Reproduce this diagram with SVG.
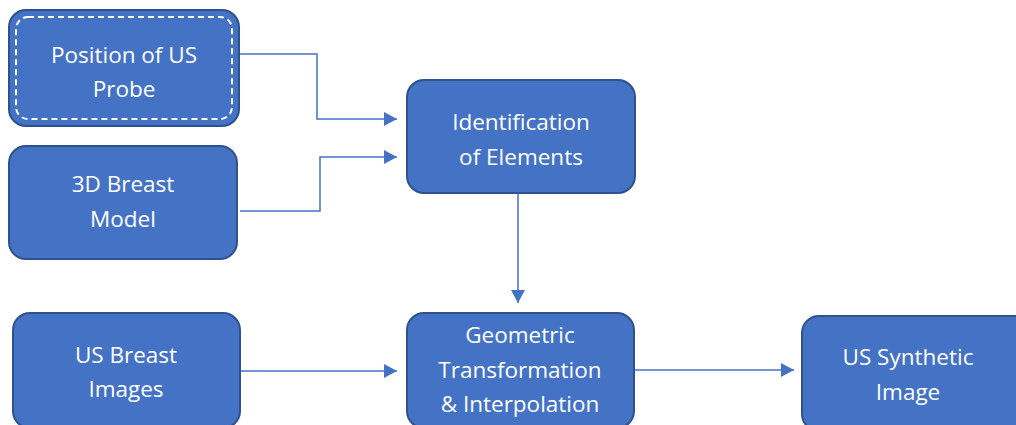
<svg xmlns="http://www.w3.org/2000/svg" width="1016" height="425" viewBox="0 0 1016 425">
  <style>
    .box { fill: #4472C4; stroke: #2F528F; stroke-width: 2; }
    .inner { fill: none; stroke: #FFFFFF; stroke-width: 2; stroke-dasharray: 6 4; }
    .label { fill: #FFFFFF; font-family: "Open Sans", "Noto Sans", sans-serif; font-size: 22.5px; text-anchor: middle; }
    .link { fill: none; stroke: #4472C4; stroke-width: 1.5; }
  </style>
  <defs>
    <marker id="arrow" viewBox="0 0 10 10" refX="10" refY="5" markerWidth="13" markerHeight="14" markerUnits="userSpaceOnUse" orient="auto" preserveAspectRatio="none">
      <path d="M0,0 L10,5 L0,10 Z" fill="#4472C4"/>
    </marker>
  </defs>
  <rect width="1016" height="425" fill="#FFFFFF"/>

  <g id="connectors">
    <polyline class="link" points="240,54 317,54 317,119 397,119" marker-end="url(#arrow)"/>
    <polyline class="link" points="240,211 320,211 320,157 397,157" marker-end="url(#arrow)"/>
    <line class="link" x1="518" y1="194" x2="518" y2="303" marker-end="url(#arrow)"/>
    <line class="link" x1="241" y1="371" x2="397" y2="371" marker-end="url(#arrow)"/>
    <line class="link" x1="635" y1="370" x2="794" y2="370" marker-end="url(#arrow)"/>
  </g>

  <g id="node-probe">
    <rect class="box" x="9" y="10" width="230" height="116" rx="17"/>
    <rect class="inner" x="16" y="17" width="216" height="102" rx="12"/>
    <text class="label" x="124" y="63">Position of US</text>
    <text class="label" x="124" y="97">Probe</text>
  </g>

  <g id="node-model">
    <rect class="box" x="9" y="146" width="228" height="113" rx="17"/>
    <text class="label" x="123" y="192">3D Breast</text>
    <text class="label" x="123" y="227">Model</text>
  </g>

  <g id="node-identification">
    <rect class="box" x="407" y="80" width="228" height="113" rx="17"/>
    <text class="label" x="521" y="130">Identification</text>
    <text class="label" x="521" y="165">of Elements</text>
  </g>

  <g id="node-images">
    <rect class="box" x="13" y="313" width="227" height="115" rx="17"/>
    <text class="label" x="126" y="363">US Breast</text>
    <text class="label" x="126" y="397">Images</text>
  </g>

  <g id="node-transform">
    <rect class="box" x="407" y="313" width="227" height="115" rx="17"/>
    <text class="label" x="520" y="343">Geometric</text>
    <text class="label" x="520" y="378">Transformation</text>
    <text class="label" x="520" y="412">&amp; Interpolation</text>
  </g>

  <g id="node-synthetic">
    <rect class="box" x="802" y="316" width="230" height="115" rx="17"/>
    <text class="label" x="908" y="365">US Synthetic</text>
    <text class="label" x="908" y="400">Image</text>
  </g>
</svg>
